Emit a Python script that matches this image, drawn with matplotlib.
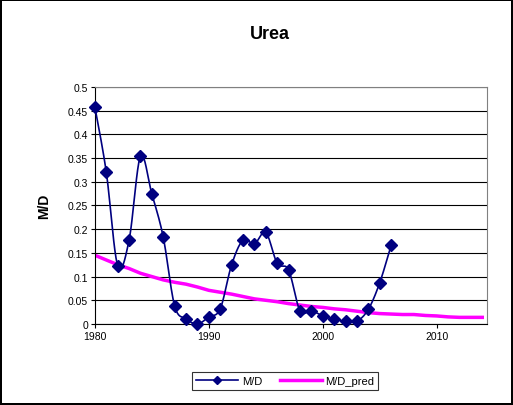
import numpy as np
import matplotlib.pyplot as plt
from matplotlib.lines import Line2D

plt.rcParams['font.family'] = ['Liberation Sans', 'DejaVu Sans']

years = np.arange(1980, 2007)
md = [0.457, 0.320, 0.123, 0.177, 0.354, 0.274, 0.183, 0.038, 0.011, 0.000,
      0.015, 0.032, 0.125, 0.177, 0.169, 0.193, 0.128, 0.114, 0.028, 0.028,
      0.017, 0.010, 0.006, 0.006, 0.031, 0.087, 0.166]

pred_years = np.arange(1980, 2015)
md_pred = [0.145, 0.135, 0.125, 0.117, 0.107, 0.100, 0.093, 0.088, 0.084, 0.078,
           0.071, 0.067, 0.063, 0.058, 0.053, 0.050, 0.047, 0.043, 0.040, 0.037,
           0.035, 0.032, 0.030, 0.027, 0.024, 0.022, 0.021, 0.020, 0.020, 0.018,
           0.017, 0.015, 0.014, 0.014, 0.014]


def smooth(x, y, n=20):
    # Catmull-Rom style curve through the points (like Excel's smoothed line)
    x = np.asarray(x, float)
    y = np.asarray(y, float)
    px = np.concatenate([[x[0]], x, [x[-1]]])
    py = np.concatenate([[y[0]], y, [y[-1]]])
    xs, ys = [], []
    t = np.linspace(0, 1, n, endpoint=False)
    for i in range(1, len(px) - 2):
        p0, p1, p2, p3 = [np.array([px[j], py[j]]) for j in (i - 1, i, i + 1, i + 2)]
        c1 = p1 + (p2 - p0) / 6
        c2 = p2 - (p3 - p1) / 6
        pts = ((1 - t) ** 3)[:, None] * p1 + (3 * (1 - t) ** 2 * t)[:, None] * c1 \
            + (3 * (1 - t) * t ** 2)[:, None] * c2 + (t ** 3)[:, None] * p2
        xs.extend(pts[:, 0])
        ys.extend(pts[:, 1])
    xs.append(x[-1])
    ys.append(y[-1])
    return np.array(xs), np.array(ys)


fig = plt.figure(figsize=(5.13, 4.06), dpi=100)
fig.patch.set_edgecolor('black')
fig.patch.set_linewidth(1.5)
ax = fig.add_axes([0.185, 0.1995, 0.764, 0.584])

sx, sy = smooth(years, md)
ax.plot(sx, sy, color='#000080', lw=1.2, zorder=3, clip_on=False)
ax.plot(years, md, 'D', color='#000080', ms=6, zorder=4, clip_on=False)
ax.plot(pred_years, md_pred, color='#FF00FF', lw=2.5, zorder=2)

ax.set_xlim(1980, 2014.4)
ax.set_ylim(0, 0.5)
ax.set_xticks([1980, 1990, 2000, 2010])
ax.set_yticks(np.arange(0, 0.51, 0.05))
ax.set_yticklabels(['0', '0.05', '0.1', '0.15', '0.2', '0.25', '0.3', '0.35', '0.4', '0.45', '0.5'])
ax.yaxis.grid(True, color='black', lw=0.8)
ax.set_axisbelow(True)
ax.tick_params(labelsize=7.5, length=3, width=0.8, pad=2)
for s in ['top', 'right']:
    ax.spines[s].set_color('#808080')
for s in ['left', 'bottom']:
    ax.spines[s].set_color('black')

ax.set_ylabel('M/D', fontsize=10, fontweight='bold', labelpad=12)
fig.text(0.526, 0.915, 'Urea', ha='center', va='center', fontsize=13, fontweight='bold')

h1 = Line2D([], [], color='#000080', lw=1.2, marker='D', ms=4)
h2 = Line2D([], [], color='#FF00FF', lw=2.5)
leg = fig.legend([h1, h2], ['M/D', 'M/D_pred'], loc='center', bbox_to_anchor=(0.556, 0.059),
                 ncol=2, fontsize=8, frameon=True, fancybox=False, edgecolor='black',
                 borderpad=0.35, handlelength=3.8, columnspacing=1.6, handletextpad=0.3)
leg.get_frame().set_linewidth(0.8)

fig.savefig('out.png', dpi=100, edgecolor=fig.get_edgecolor())
